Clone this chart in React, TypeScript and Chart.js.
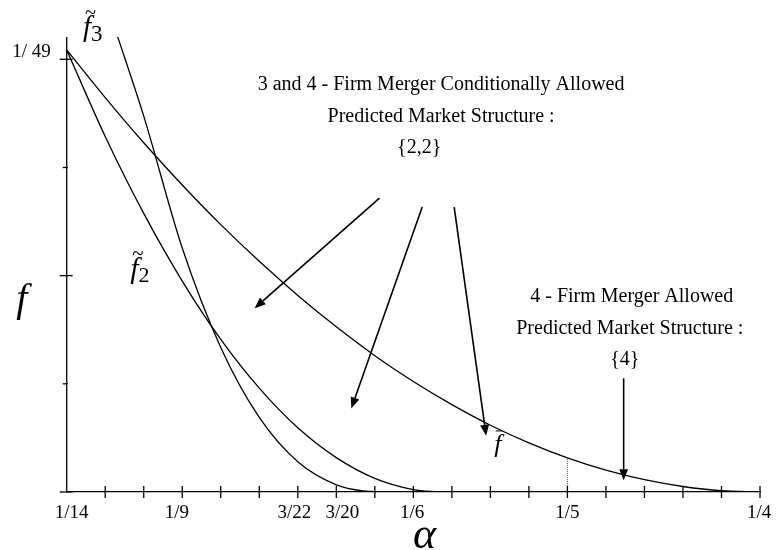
import React, { useEffect, useRef } from "react";
import { Chart, registerables } from "chart.js";
Chart.register(...registerables);

// x is measured in tick steps along the alpha axis (0 = 1/14, 18 = 1/4); y is f
const fBarX = [0, 1, 2, 3, 4, 5, 6, 7, 8, 9, 10, 11, 12, 13, 14, 15, 16, 17, 18];
const fBarValues = [0.02085, 0.0186, 0.01647, 0.01448, 0.01261, 0.01088, 0.00927, 0.00779, 0.00643, 0.00521, 0.00412, 0.00315, 0.00232, 0.00161, 0.00103, 0.00058, 0.00026, 0.00006, 0];

const f2X = [0, 1, 2, 3, 4, 5, 6, 7, 8, 9, 9.7];
const f2Values = [0.02085, 0.01677, 0.01314, 0.00995, 0.0072, 0.0049, 0.00303, 0.00162, 0.00064, 0.00011, 0];

const f3X = [1.3, 2, 3, 4, 5, 6, 7, 7.7, 8.3];
const f3Values = [0.0216, 0.01773, 0.01151, 0.00682, 0.00352, 0.00143, 0.00034, 0.00005, 0];

const dottedX = [13, 13];
const dottedValues = [0, 0.00161];

const xTickPos = [0, 2.73, 5.78, 7.03, 8.84, 12.87, 17.85];
const xTickLabels = ["1/14", "1/9", "3/22", "3/20", "1/6", "1/5", "1/4"];
const xStepCount = 18;
const yTickValues = [0, 1 / 196, 2 / 196, 3 / 196, 1 / 49];
const yTickLabels = ["", "", "", "", "1/ 49"];

// annotations in data coordinates [x, f]
const arrows = [
  [8.12, 0.01386, 4.88, 0.00867],
  [9.23, 0.01344, 7.39, 0.00394],
  [10.06, 0.01344, 10.89, 0.00265],
  [14.46, 0.00536, 14.46, 0.00055],
];
const block1 = ["3 and 4 - Firm Merger Conditionally Allowed", "Predicted Market Structure :", "{2,2}"];
const block1X = [9.72, 9.72, 9.15];
const block1Y = [0.01919, 0.01768, 0.01622];
const block2 = ["4 - Firm Merger Allowed", "Predicted Market Structure :", "{4}"];
const block2X = [14.67, 14.62, 14.49];
const block2Y = [0.00919, 0.00772, 0.00622];

const SERIF = "'Liberation Serif', 'Times New Roman', serif";

function drawF(ctx: CanvasRenderingContext2D, x: number, y: number, size: number, sub: string, subSize: number, mark: string) {
  ctx.save();
  ctx.fillStyle = "#000";
  ctx.textAlign = "left";
  ctx.textBaseline = "alphabetic";
  ctx.font = `italic ${size}px ${SERIF}`;
  const w = ctx.measureText("f").width;
  ctx.fillText("f", x, y);
  if (mark === "tilde") {
    ctx.font = `${size * 0.7}px ${SERIF}`;
    ctx.fillText("~", x + w * 0.25, y - size * 0.6);
  } else if (mark === "bar") {
    ctx.strokeStyle = "#000";
    ctx.lineWidth = 1;
    ctx.beginPath();
    ctx.moveTo(x + w * 0.2, y - size * 0.8);
    ctx.lineTo(x + w * 1.15, y - size * 0.8);
    ctx.stroke();
  }
  if (sub) {
    ctx.font = `${subSize}px ${SERIF}`;
    ctx.fillText(sub, x + w * 1.0, y + size * 0.15);
  }
  ctx.restore();
}

const overlay = {
  id: "overlay",
  afterDraw(chart: any) {
    const ctx: CanvasRenderingContext2D = chart.ctx;
    const xs = chart.scales.x;
    const ys = chart.scales.y;
    const X = (v: number) => xs.getPixelForValue(v);
    const Y = (v: number) => ys.getPixelForValue(v);
    ctx.save();
    ctx.strokeStyle = "#000";
    ctx.lineWidth = 1.3;
    // y axis line
    ctx.beginPath();
    ctx.moveTo(X(0), Y(0));
    ctx.lineTo(X(0), chart.chartArea.top);
    ctx.stroke();
    // x ticks
    for (let i = 1; i <= xStepCount; i++) {
      const px = X(i);
      ctx.beginPath();
      ctx.moveTo(px, Y(0) - 6);
      ctx.lineTo(px, Y(0) + 6);
      ctx.stroke();
    }
    // y ticks
    yTickValues.forEach((v, i) => {
      const py = Y(v);
      const major = i % 2 === 0;
      ctx.beginPath();
      ctx.moveTo(X(0) - (major ? 7 : 4), py);
      ctx.lineTo(X(0) + (major ? 6 : 1), py);
      ctx.stroke();
    });
    // arrows
    ctx.lineWidth = 1.6;
    arrows.forEach(([a1, f1, a2, f2]) => {
      const x1 = X(a1), y1 = Y(f1), x2 = X(a2), y2 = Y(f2);
      const ang = Math.atan2(y2 - y1, x2 - x1);
      const L = 11, W = 4.5;
      const bx = x2 - L * Math.cos(ang), by = y2 - L * Math.sin(ang);
      ctx.beginPath();
      ctx.moveTo(x1, y1);
      ctx.lineTo(bx, by);
      ctx.stroke();
      ctx.beginPath();
      ctx.moveTo(x2, y2);
      ctx.lineTo(bx + W * Math.sin(ang), by - W * Math.cos(ang));
      ctx.lineTo(bx - W * Math.sin(ang), by + W * Math.cos(ang));
      ctx.closePath();
      ctx.fillStyle = "#000";
      ctx.fill();
    });
    // text blocks
    ctx.fillStyle = "#000";
    ctx.font = `20px ${SERIF}`;
    ctx.textAlign = "center";
    ctx.textBaseline = "middle";
    block1.forEach((t, i) => ctx.fillText(t, X(block1X[i]), Y(block1Y[i])));
    block2.forEach((t, i) => ctx.fillText(t, X(block2X[i]), Y(block2Y[i])));
    // curve labels
    drawF(ctx, X(0.42), Y(0.0215), 29, "3", 23, "tilde");
    drawF(ctx, X(1.65), Y(0.0101), 30, "2", 22, "tilde");
    drawF(ctx, X(11.1), Y(0.0019), 26, "", 0, "bar");
    drawF(ctx, X(-1.31), Y(0.00855), 40, "", 0, "");
    ctx.font = `italic 44px ${SERIF}`;
    ctx.textAlign = "center";
    ctx.textBaseline = "alphabetic";
    ctx.fillText("\u03b1", X(9.29), Y(0) + 56);
    ctx.restore();
  },
};

export default function App() {
  const ref = useRef<HTMLCanvasElement | null>(null);
  useEffect(() => {
    document.body.style.margin = "0";
    const pts = (xa: number[], ya: number[]) => xa.map((x, i) => ({ x, y: ya[i] }));
    const line = (data: any[], extra: any = {}) => ({
      data,
      borderColor: "#000",
      borderWidth: 1.3,
      pointRadius: 0,
      fill: false,
      cubicInterpolationMode: "monotone",
      ...extra,
    });
    const chart = new Chart(ref.current as HTMLCanvasElement, {
      type: "line",
      data: {
        datasets: [
          line(pts(fBarX, fBarValues)),
          line(pts(f2X, f2Values)),
          line(pts(f3X, f3Values)),
          line(pts(dottedX, dottedValues), { borderDash: [1, 1], borderWidth: 1, borderColor: "#555" }),
        ],
      },
      options: {
        animation: false,
        responsive: false,
        plugins: { legend: { display: false }, tooltip: { enabled: false } },
        layout: { padding: { top: 37, right: 22, left: 0, bottom: 0 } },
        scales: {
          x: {
            type: "linear",
            min: 0,
            max: 18,
            grid: { display: false, drawTicks: false },
            border: { display: true, color: "#000", width: 1.3 },
            ticks: {
              autoSkip: false,
              maxRotation: 0,
              padding: 10,
              labelOffset: 5,
              color: "#000",
              font: { family: SERIF, size: 19 },
              callback: (v: any) => {
                const i = xTickPos.findIndex((t) => Math.abs(t - v) < 1e-9);
                return i >= 0 ? xTickLabels[i] : "";
              },
            },
            afterBuildTicks: (s: any) => {
              s.ticks = xTickPos.map((value) => ({ value }));
            },
            afterFit: (s: any) => {
              s.height = 58;
            },
          },
          y: {
            type: "linear",
            min: 0,
            max: 0.02146,
            grid: { display: false, drawTicks: false },
            border: { display: false },
            ticks: {
              autoSkip: false,
              padding: 16,
              labelOffset: -7,
              color: "#000",
              font: { family: SERIF, size: 19 },
              callback: (v: any) => {
                const i = yTickValues.findIndex((t) => Math.abs(t - v) < 1e-9);
                return i >= 0 ? yTickLabels[i] : "";
              },
            },
            afterBuildTicks: (s: any) => {
              s.ticks = yTickValues.map((value) => ({ value }));
            },
            afterFit: (s: any) => {
              s.width = 66.7;
            },
          },
        },
      },
      plugins: [overlay],
    } as any);
    return () => chart.destroy();
  }, []);
  return (
    <div style={{ width: 782, height: 550, background: "#fff" }}>
      <canvas ref={ref} width={782} height={550} />
    </div>
  );
}
